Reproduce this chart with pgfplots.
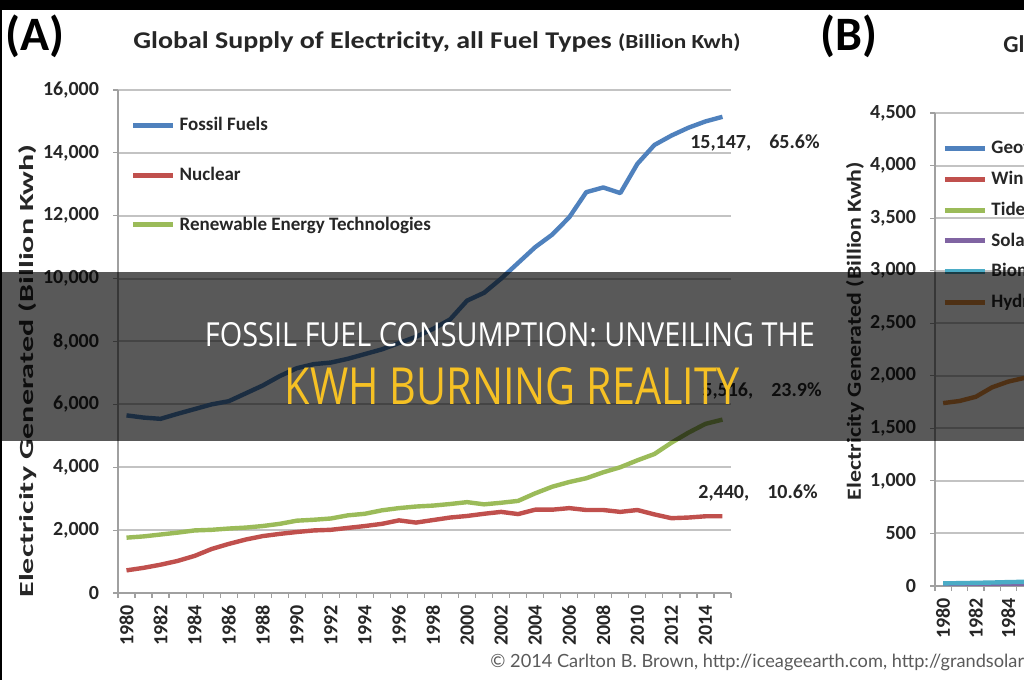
\documentclass[border=0pt]{standalone}
\usepackage{pgfplots}
\usepackage{pgfplotstable}
\pgfplotsset{compat=1.18}
\usepackage{fontspec}
\setmainfont{Carlito}
\newfontfamily\bannerfont{Open Sans}
\newfontfamily\copyfont{Lato}
\definecolor{cBlue}{RGB}{79,129,189}
\definecolor{cRed}{RGB}{192,80,77}
\definecolor{cGreen}{RGB}{155,187,89}
\definecolor{cPurple}{RGB}{128,100,162}
\definecolor{cCyan}{RGB}{75,172,198}
\definecolor{cOrange}{RGB}{226,140,60}
\definecolor{gridc}{RGB}{195,195,195}
\definecolor{axisc}{RGB}{160,160,160}
\definecolor{txt}{RGB}{38,38,38}
\definecolor{ban}{RGB}{246,193,36}
\definecolor{copyc}{RGB}{90,90,90}

\pgfplotstableread{
year fossil nuclear renew
1980 5650 720 1760
1981 5580 800 1800
1982 5540 900 1860
1983 5700 1020 1920
1984 5850 1180 1990
1985 6000 1400 2010
1986 6100 1560 2050
1987 6350 1700 2080
1988 6600 1810 2130
1989 6900 1880 2200
1990 7150 1940 2300
1991 7280 1990 2330
1992 7330 2010 2370
1993 7450 2070 2470
1994 7600 2130 2520
1995 7750 2200 2630
1996 7950 2310 2700
1997 8150 2240 2750
1998 8400 2320 2780
1999 8700 2400 2830
2000 9300 2450 2890
2001 9550 2520 2820
2002 10000 2580 2870
2003 10500 2510 2930
2004 11000 2650 3170
2005 11400 2650 3380
2006 11950 2700 3530
2007 12750 2640 3650
2008 12900 2640 3840
2009 12720 2580 4000
2010 13650 2640 4220
2011 14250 2500 4420
2012 14550 2380 4780
2013 14800 2400 5100
2014 15000 2440 5380
2015 15147 2440 5516
}\tblA

\pgfplotstableread{
year geo wind tide solar bio hydro
1980 10 0 1 0 25 1740
1981 11 0 1 0 27 1760
1982 12 0 1 0 30 1800
1983 14 0 1 0 33 1890
1984 17 0 1 0 37 1945
1985 20 0 1 0 40 1980
1986 22 0 1 0 44 2000
}\tblB

\pgfplotsset{
 chart/.style={
  scale only axis, anchor=south west, xmin=1979.5, xmax=2015.5, ymin=0,
  axis lines=left, axis line style={-, draw=axisc, line width=0.9pt},
  tick align=outside,
  scaled y ticks=false,
  xtick={1980,1982,...,2014}, minor xtick={1979.5,1980.5,...,2015.5},
  major x tick style={draw=none},
  minor x tick style={draw=axisc, line width=0.6pt},
  minor tick length=2.5pt, major tick length=2.5pt,
  ytick style={draw=axisc, line width=0.6pt},
  ymajorgrids, major grid style={draw=gridc, line width=1pt},
  x tick label style={rotate=90, anchor=east, /pgf/number format/1000 sep={}},
  y tick label style={/pgf/number format/1000 sep={,}, /pgf/number format/fixed, xshift=-3.5pt},
  /pgf/number format/assume math mode=true,
  tick label style={font=\bfseries\fontsize{10}{12}\selectfont, text=txt},
  every axis plot/.append style={line width=2.2pt, line join=round, no marks},
  legend style={draw=none, fill=none, anchor=north west, cells={anchor=west},
    font=\bfseries\fontsize{9.5}{11}\selectfont, inner sep=0pt, text=txt},
  legend image code/.code={\draw[#1, line width=2.5pt] (0pt,0pt) -- (20pt,0pt);},
 }
}

\begin{document}
\begin{tikzpicture}
\useasboundingbox (0,0) rectangle (512pt,340pt);
\clip (0,0) rectangle (512pt,340pt);
\fill[white] (0,0) rectangle (512pt,340pt);

% Chart A
\begin{axis}[chart, at={(59pt,43.5pt)}, width=306.5pt, height=251.5pt,
  ymax=16000, ytick={0,2000,...,16000},
  legend style={at={(0.02,0.955)}, row sep=12.75pt}]
\addplot[cBlue] table[x=year,y=fossil]{\tblA};
\addlegendentry{Fossil Fuels}
\addplot[cRed] table[x=year,y=nuclear]{\tblA};
\addlegendentry{Nuclear}
\addplot[cGreen] table[x=year,y=renew]{\tblA};
\addlegendentry{Renewable Energy Technologies}
\end{axis}

% Chart B
\begin{axis}[chart, at={(467.5pt,47pt)}, width=293.5pt, height=236.5pt,
  ymax=4500, ytick={0,500,...,4500},
  legend style={at={(0.012,0.951)}, row sep=3.2pt}]
\addplot[cBlue] table[x=year,y=geo]{\tblB};
\addlegendentry{Geothermal}
\addplot[cRed] table[x=year,y=wind]{\tblB};
\addlegendentry{Wind}
\addplot[cGreen] table[x=year,y=tide]{\tblB};
\addlegendentry{Tide and Wave}
\addplot[cPurple] table[x=year,y=solar]{\tblB};
\addlegendentry{Solar}
\addplot[cCyan] table[x=year,y=bio]{\tblB};
\addlegendentry{Biomass and Waste}
\addplot[cOrange] table[x=year,y=hydro]{\tblB};
\addlegendentry{Hydroelectricity}
\end{axis}

% titles
\node[anchor=base west, inner sep=0, text=black] at (2.5pt,314.5pt) {\bfseries\fontsize{24}{28}\selectfont (A)};
\node[anchor=base west, inner sep=0, text=txt] at (66.5pt,315.5pt) {\resizebox{303.5pt}{\height}{\bfseries\fontsize{12}{14}\selectfont Global Supply of Electricity, all Fuel Types {\fontsize{10}{12}\selectfont (Billion Kwh)}}};
\node[anchor=base west, inner sep=0, text=black] at (410pt,314.5pt) {\bfseries\fontsize{24}{28}\selectfont (B)};
\node[anchor=base west, inner sep=0, text=txt] at (501.5pt,313.5pt) {\bfseries\fontsize{12}{14}\selectfont Global Supply of Electricity, Renewable Energy};

% y labels
\node[rotate=90, inner sep=0, text=txt] at (14pt,154.5pt) {\resizebox{226.5pt}{\height}{\bfseries\fontsize{10}{12}\selectfont Electricity Generated (Billion Kwh)}};
\node[rotate=90, inner sep=0, text=txt] at (427.5pt,174.5pt) {\resizebox{169pt}{\height}{\bfseries\fontsize{10}{12}\selectfont Electricity Generated (Billion Kwh)}};

% data labels
\node[anchor=east, inner sep=0, text=txt, font=\bfseries\fontsize{10}{12}\selectfont] at (410pt,268.5pt) {15,147,\hspace{0.9em}65.6\%};
\node[anchor=east, inner sep=0, text=txt, font=\bfseries\fontsize{10}{12}\selectfont] at (411pt,144.5pt) {5,516,\hspace{0.9em}23.9\%};
\node[anchor=east, inner sep=0, text=txt, font=\bfseries\fontsize{10}{12}\selectfont] at (409pt,93.5pt) {2,440,\hspace{0.9em}10.6\%};

% copyright
\node[anchor=base west, inner sep=0, text=copyc] at (245pt,6pt) {\copyfont\fontsize{9.1}{11}\selectfont © 2014 Carlton B. Brown, http://iceageearth.com, http://grandsolarminimum.com};

% frame strips
\fill[black] (0,335pt) rectangle (512pt,340pt);
\fill[black] (0,0) rectangle (0.75pt,340pt);

% banner
\fill[black, opacity=0.65] (0,119.5pt) rectangle (512pt,204pt);
\node[text=white, inner sep=0] at (255pt,172.5pt) {\resizebox{305pt}{12pt}{\bannerfont FOSSIL FUEL CONSUMPTION: UNVEILING THE}};
\node[text=ban, inner sep=0] at (256.25pt,147pt) {\resizebox{227.5pt}{18.5pt}{\bannerfont KWH BURNING REALITY}};
\end{tikzpicture}
\end{document}
